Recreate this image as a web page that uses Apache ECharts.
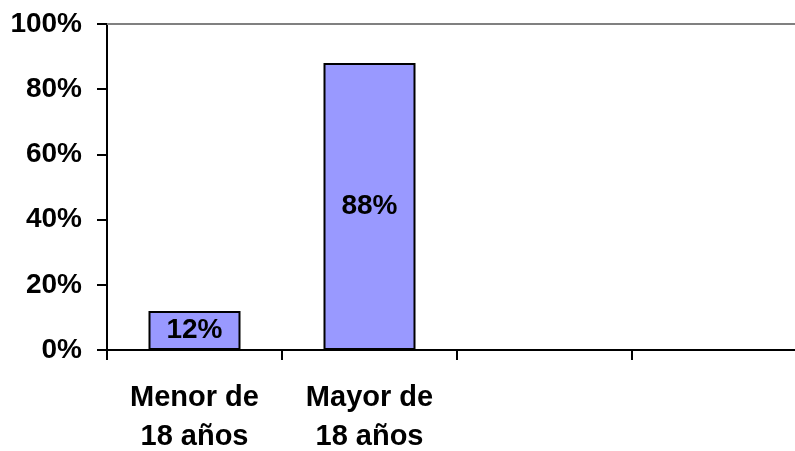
<!DOCTYPE html>
<html>
<head>
<meta charset="utf-8">
<script src="https://cdn.jsdelivr.net/npm/echarts@6/dist/echarts.min.js"></script>
<style>
  html, body { margin: 0; padding: 0; background: #fff; }
  #chart { width: 795px; height: 451px; }
</style>
</head>
<body>
<div id="chart"></div>
<script>
  // categorias (las dos ultimas vacias, como en el original)
  const categories = ['Menor de\n18 años', 'Mayor de\n18 años', '', '']
  const values = [12, 88]
  const yTicks = [0, 20, 40, 60, 80, 100]

  const font = 'Liberation Sans, Arial, sans-serif'
  const dom = echarts.init(document.getElementById('chart'))

  const option = {
    animation: false,
    grid: {
      left: 107,
      top: 24,
      width: 700,
      height: 326,
      outerBoundsMode: 'none',
      containLabel: false
    },
    xAxis: [
      {
        type: 'category',
        data: categories,
        axisLine: { lineStyle: { color: '#000', width: 2 } },
        axisTick: { show: true, length: 10, lineStyle: { color: '#000', width: 2 } },
        axisLabel: {
          color: '#000',
          fontFamily: font,
          fontWeight: 'bold',
          fontSize: 29,
          lineHeight: 39,
          margin: 28
        }
      },
      {
        type: 'category',
        position: 'top',
        data: categories,
        axisLine: { lineStyle: { color: '#808080', width: 2 } },
        axisTick: { show: false },
        axisLabel: { show: false }
      }
    ],
    yAxis: {
      type: 'value',
      min: yTicks[0],
      max: yTicks[yTicks.length - 1],
      interval: 20,
      axisLine: { show: true, lineStyle: { color: '#000', width: 2 } },
      axisTick: { show: true, length: 10, lineStyle: { color: '#000', width: 2 } },
      splitLine: { show: false },
      axisLabel: {
        color: '#000',
        fontFamily: font,
        fontWeight: 'bold',
        fontSize: 28,
        margin: 25,
        formatter: '{value}%'
      }
    },
    series: [
      {
        type: 'bar',
        data: values,
        barWidth: 92,
        itemStyle: {
          color: '#9999FF',
          borderColor: '#000',
          borderWidth: 2
        },
        label: {
          show: true,
          position: 'inside',
          color: '#000',
          fontFamily: font,
          fontWeight: 'bold',
          fontSize: 28,
          formatter: '{c}%'
        }
      }
    ]
  }

  dom.setOption(option)
</script>
</body>
</html>
